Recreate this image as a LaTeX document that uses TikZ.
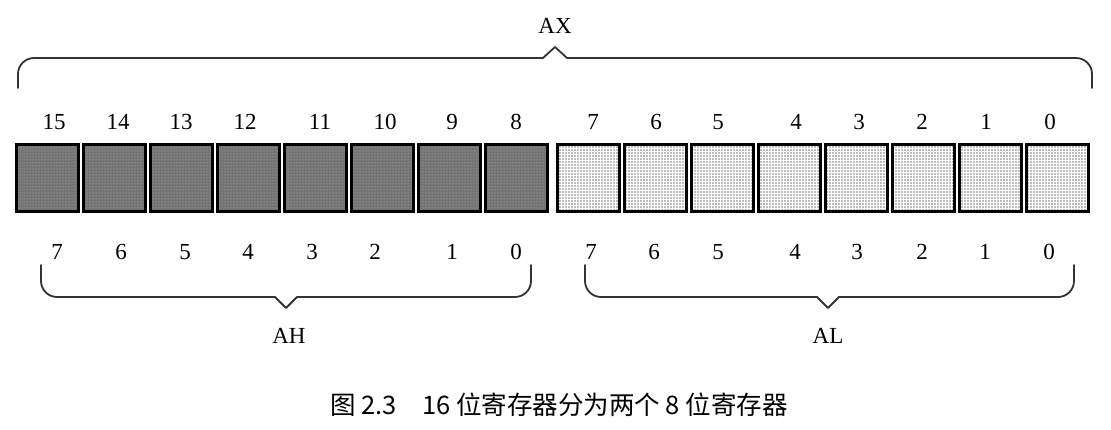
\documentclass[tikz,border=0pt]{standalone}
\usepackage{fontspec}
\setmainfont{Liberation Serif}
\newfontfamily\cjk{Noto Sans CJK SC}
\usetikzlibrary{patterns}
\begin{document}
\begin{tikzpicture}[x=1pt,y=-1pt,
  hcell/.style={draw=black, line width=2.6pt, minimum width=62pt, minimum height=67pt, inner sep=0pt, preaction={fill=black!55}, pattern=dots, pattern color=black!25},
  lcell/.style={draw=black, line width=2.6pt, minimum width=62pt, minimum height=67pt, inner sep=0pt, preaction={fill=black!26}, pattern=grid, pattern color=white},
  bit/.style={font=\fontsize{23}{27}\selectfont, inner sep=0pt},
  brace/.style={draw=black!80, line width=1.8pt, line cap=round, line join=round}]
\useasboundingbox (0,0) rectangle (1111,430);
% AX
\node [bit] (ax) at (555,26) {AX};
\draw [brace, rounded corners=16pt] (18,88) -- (18,58) -- (543,58);
\draw [brace] (543,58) -- (555,47) -- (567,58);
\draw [brace, rounded corners=16pt] (567,58) -- (1092,58) -- (1092,88);
% bit numbers of AX
\node [bit] (t15) at (54,122) {15};
\node [bit] (t14) at (118,122) {14};
\node [bit] (t13) at (181,122) {13};
\node [bit] (t12) at (245,122) {12};
\node [bit] (t11) at (320,122) {11};
\node [bit] (t10) at (385,122) {10};
\node [bit] (t9) at (452,122) {9};
\node [bit] (t8) at (516,122) {8};
\node [bit] (t7) at (593,122) {7};
\node [bit] (t6) at (656,122) {6};
\node [bit] (t5) at (718,122) {5};
\node [bit] (t4) at (796,122) {4};
\node [bit] (t3) at (859,122) {3};
\node [bit] (t2) at (922,122) {2};
\node [bit] (t1) at (986,122) {1};
\node [bit] (t0) at (1050,122) {0};
% cells
\node [hcell] (b15) at (47.5,178) {};
\node [hcell] (b14) at (114.5,178) {};
\node [hcell] (b13) at (181.5,178) {};
\node [hcell] (b12) at (248.5,178) {};
\node [hcell] (b11) at (315.5,178) {};
\node [hcell] (b10) at (382.5,178) {};
\node [hcell] (b9) at (449.5,178) {};
\node [hcell] (b8) at (516.5,178) {};
\node [lcell] (b7) at (588.5,178) {};
\node [lcell] (b6) at (655.5,178) {};
\node [lcell] (b5) at (722.5,178) {};
\node [lcell] (b4) at (789.5,178) {};
\node [lcell] (b3) at (856.5,178) {};
\node [lcell] (b2) at (923.5,178) {};
\node [lcell] (b1) at (990.5,178) {};
\node [lcell] (b0) at (1057.5,178) {};
% bit numbers of AH and AL
\node [bit] (h7) at (57,252) {7};
\node [bit] (h6) at (121,252) {6};
\node [bit] (h5) at (185,252) {5};
\node [bit] (h4) at (248,252) {4};
\node [bit] (h3) at (312,252) {3};
\node [bit] (h2) at (375,252) {2};
\node [bit] (h1) at (452,252) {1};
\node [bit] (h0) at (516,252) {0};
\node [bit] (l7) at (591,252) {7};
\node [bit] (l6) at (654,252) {6};
\node [bit] (l5) at (718,252) {5};
\node [bit] (l4) at (795,252) {4};
\node [bit] (l3) at (857,252) {3};
\node [bit] (l2) at (922,252) {2};
\node [bit] (l1) at (985,252) {1};
\node [bit] (l0) at (1049,252) {0};
% AH
\draw [brace, rounded corners=16pt] (41,265) -- (41,297) -- (275,297);
\draw [brace] (275,297) -- (286,308) -- (297,297);
\draw [brace, rounded corners=16pt] (297,297) -- (531,297) -- (531,265);
\node [bit] (ah) at (289,336) {AH};
% AL
\draw [brace, rounded corners=16pt] (585,265) -- (585,297) -- (817,297);
\draw [brace] (817,297) -- (828,308) -- (839,297);
\draw [brace, rounded corners=16pt] (839,297) -- (1074,297) -- (1074,265);
\node [bit] (al) at (828,336) {AL};
% caption
\node [font=\cjk\fontsize{25.5}{30}\selectfont, inner sep=0pt] (cap) at (559,405) {图 2.3\quad 16 位寄存器分为两个 8 位寄存器};
\end{tikzpicture}
\end{document}
